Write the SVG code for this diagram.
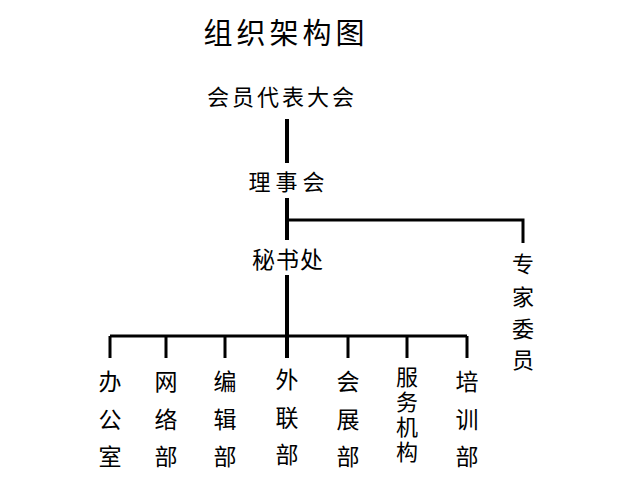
<svg xmlns="http://www.w3.org/2000/svg" width="641" height="494" viewBox="0 0 641 494">
<style>
text{font-family:"Noto Sans CJK SC","Noto Sans CJK JP",sans-serif;fill:#000;text-anchor:middle;dominant-baseline:central}
.t{font-size:29px;letter-spacing:4px}
.m{font-size:22px}
.b{font-size:23px}
.v{font-size:22px;writing-mode:vertical-rl;letter-spacing:3px}
.ln{stroke:#000;stroke-width:4;fill:none}
.ln2{stroke:#000;stroke-width:3;fill:none}
</style>
<rect width="641" height="494" fill="#fff"/>
<text class="t" x="286" y="31">组织架构图</text>
<g id="connectors">
<path class="ln" d="M287,119V163"/>
<path class="ln" d="M287,198V240"/>
<path class="ln2" d="M287,220H523V243"/>
<path class="ln" d="M287,275V358"/>
<path class="ln2" d="M110,336H467"/>
<path class="ln2" d="M110,336V358M166,336V358M225,336V358M348,336V358M407,336V358M467,336V358"/>
</g>
<g id="n-hydb"><text class="m" x="282" y="95" letter-spacing="3">会员代表大会</text></g>
<g id="n-lsh"><text class="m" x="289" y="180" letter-spacing="5">理事会</text></g>
<g id="n-msc"><text class="b" x="288" y="258" letter-spacing="1">秘书处</text></g>
<g id="n-zjwy"><text class="m" x="523" y="262">专</text><text class="m" x="523" y="295">家</text><text class="m" x="523" y="327">委</text><text class="m" x="523" y="358">员</text></g>
<g id="n-bgs"><text class="b" x="110" y="380">办</text><text class="b" x="110" y="418">公</text><text class="b" x="110" y="455">室</text></g>
<g id="n-wlb"><text class="b" x="166" y="380">网</text><text class="b" x="166" y="418">络</text><text class="b" x="166" y="455">部</text></g>
<g id="n-bjb"><text class="b" x="225" y="380">编</text><text class="b" x="225" y="418">辑</text><text class="b" x="225" y="455">部</text></g>
<g id="n-wlbu"><text class="b" x="287" y="378">外</text><text class="b" x="287" y="416">联</text><text class="b" x="287" y="453">部</text></g>
<g id="n-hzb"><text class="b" x="348" y="380">会</text><text class="b" x="348" y="418">展</text><text class="b" x="348" y="455">部</text></g>
<g id="n-fwjg"><text class="v" x="407" y="416">服务机构</text></g>
<g id="n-pxb"><text class="b" x="467" y="380">培</text><text class="b" x="467" y="418">训</text><text class="b" x="467" y="455">部</text></g>
</svg>
